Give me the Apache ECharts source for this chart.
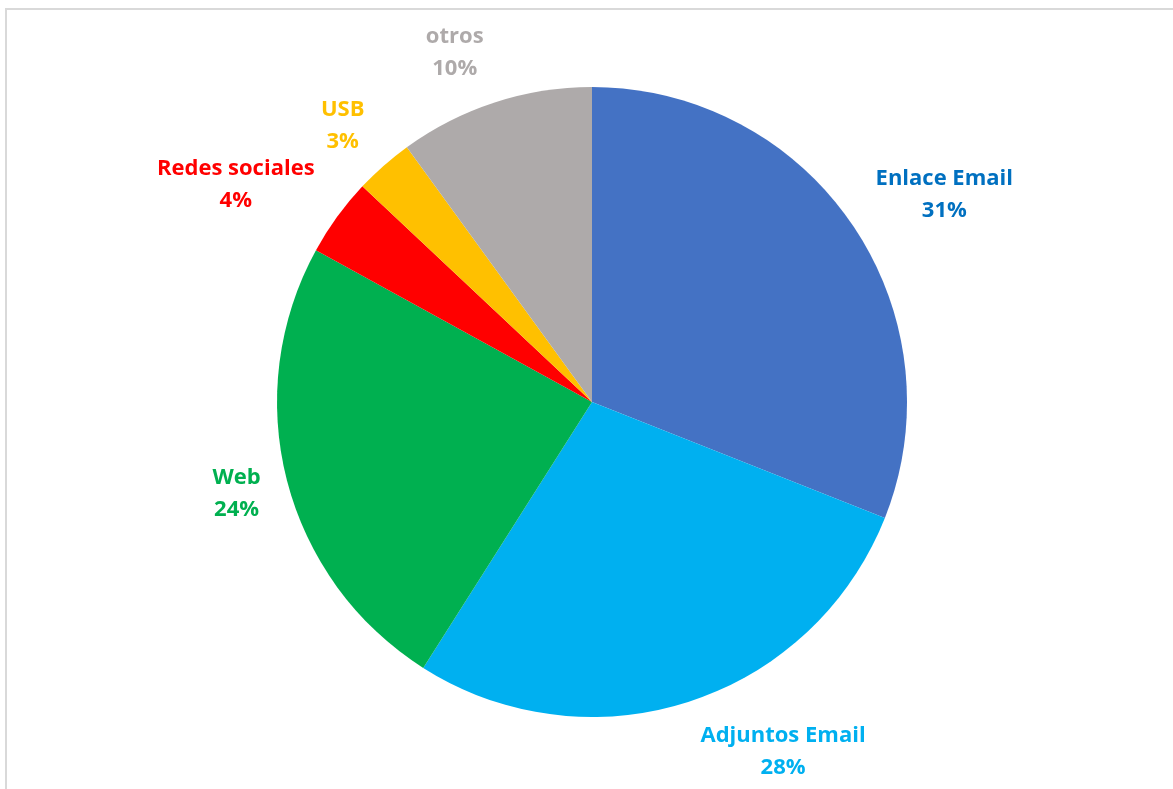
<!DOCTYPE html>
<html>
<head>
<meta charset="utf-8">
<script src="https://cdn.jsdelivr.net/npm/echarts@6/dist/echarts.min.js"></script>
<style>
html,body{margin:0;padding:0;background:#fff;}
#chart{width:1173px;height:789px;}
</style>
</head>
<body>
<div id="chart"></div>
<script>
const categories = ['Enlace Email', 'Adjuntos Email', 'Web', 'Redes sociales', 'USB', 'otros'];
const values = [31, 28, 24, 4, 3, 10];
const sliceColors = ['#4472C4', '#00B0F0', '#00B050', '#FF0000', '#FFC000', '#AEAAAA'];
const labelColors = ['#0070C0', '#00B0F0', '#00B050', '#FF0000', '#FFC000', '#AEAAAA'];

const CENTER = [0.5047, 0.5095];
const RADIUS = 315;
const total = values.reduce((a, b) => a + b, 0);

const chart = echarts.init(document.getElementById('chart'), null, {renderer: 'canvas'});

const data = categories.map((name, i) => ({
  name: name,
  value: values[i],
  itemStyle: {color: sliceColors[i]},
  label: {color: labelColors[i]}
}));

const option = {
  backgroundColor: '#ffffff',
  animation: false,
  graphic: [{
    type: 'rect',
    silent: true,
    z: -10,
    shape: {x: 6, y: 9, width: 1400, height: 1200},
    style: {fill: 'none', stroke: '#D9D9D9', lineWidth: 2}
  }],
  series: [{
    type: 'pie',
    center: [(CENTER[0] * 100) + '%', (CENTER[1] * 100) + '%'],
    radius: RADIUS,
    startAngle: 90,
    clockwise: true,
    avoidLabelOverlap: false,
    itemStyle: {borderWidth: 0},
    label: {
      show: true,
      position: 'outside',
      fontFamily: 'Open Sans',
      fontWeight: 'bold',
      fontSize: 22,
      lineHeight: 32,
      align: 'center',
      formatter: function (p) { return p.name + '\n' + Math.round(p.value / total * 100) + '%'; }
    },
    labelLine: {show: false},
    labelLayout: function (p) {
      const w = chart.getWidth(), h = chart.getHeight();
      const cx = w * CENTER[0], cy = h * CENTER[1];
      const i = p.dataIndex;
      let before = 0;
      for (let k = 0; k < i; k++) before += values[k];
      const mid = (90 - (before + values[i] / 2) / total * 360) * Math.PI / 180;
      const ux = Math.cos(mid), uy = -Math.sin(mid);
      const r = RADIUS + 23;
      const hw = p.labelRect.width / 2 + 4;
      const hh = p.labelRect.height / 2 - 4;
      const fy = Math.max(-1, Math.min(1, uy * 1.1));
      return {
        x: cx + r * ux + Math.sign(ux) * hw,
        y: cy + r * uy + fy * hh,
        align: 'center',
        verticalAlign: 'middle'
      };
    },
    data: data
  }]
};
chart.setOption(option);
</script>
</body>
</html>
